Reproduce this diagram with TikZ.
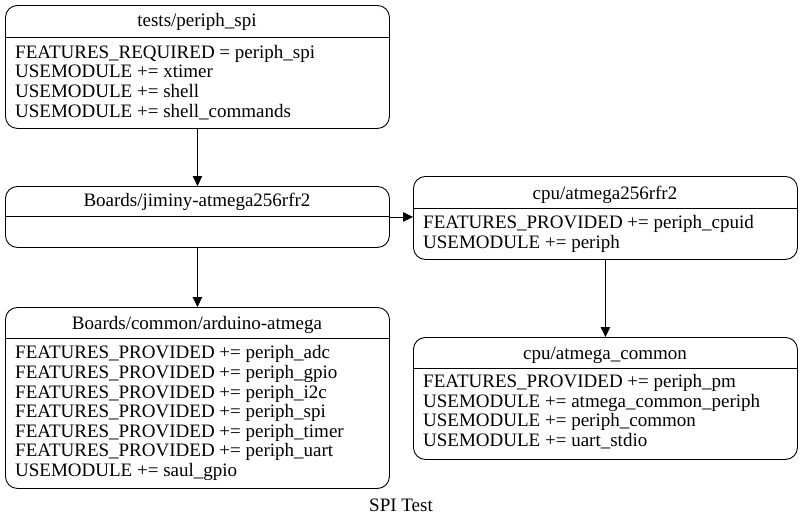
\documentclass[tikz,border=0pt]{standalone}
\usepackage{fontspec}
\setmainfont{Liberation Serif}
\usetikzlibrary{arrows.meta}
\begin{document}
\begin{tikzpicture}[x=1pt,y=-1pt,
  box/.style={draw, line width=0.9pt, rounded corners=12pt, anchor=north west, inner sep=0pt},
  ttl/.style={anchor=base, inner sep=0pt, font=\fontsize{19}{19.6}\selectfont},
  body/.style={anchor=base west, inner sep=0pt, align=left, font=\fontsize{19}{19.6}\selectfont},
  sep/.style={line width=0.9pt},
  arr/.style={line width=0.9pt, -{Triangle[length=10pt,width=9.5pt]}}]
\useasboundingbox (0,0) rectangle (803,525);
% boxes
\node[box, minimum width=384pt, minimum height=123pt] (b1) at (5,5) {};
\node[box, minimum width=384pt, minimum height=61pt] (b2) at (5,186) {};
\node[box, minimum width=384pt, minimum height=181pt] (b3) at (5,307) {};
\node[box, minimum width=384pt, minimum height=83pt] (b4) at (413,176) {};
\node[box, minimum width=384pt, minimum height=122pt] (b5) at (413,337) {};
% separators
\coordinate (s1) at (0,37.5);
\coordinate (s2) at (0,216.5);
\coordinate (s3) at (0,338.5);
\coordinate (s4) at (0,208);
\coordinate (s5) at (0,368);
\draw[sep] (b1.west |- s1) -- (b1.east |- s1);
\draw[sep] (b2.west |- s2) -- (b2.east |- s2);
\draw[sep] (b3.west |- s3) -- (b3.east |- s3);
\draw[sep] (b4.west |- s4) -- (b4.east |- s4);
\draw[sep] (b5.west |- s5) -- (b5.east |- s5);
% titles
\node[ttl] (t1) at (197,26) {tests/periph\_spi};
\node[ttl] (t2) at (197,206) {Boards/jiminy-atmega256rfr2};
\node[ttl] (t3) at (197,329) {Boards/common/arduino-atmega};
\node[ttl] (t4) at (605,199) {cpu/atmega256rfr2};
\node[ttl] (t5) at (605,359) {cpu/atmega\_common};
% bodies (anchored at the baseline of their last line)
\node[body] (l1) at (15,117) {FEATURES\_REQUIRED = periph\_spi\\USEMODULE += xtimer\\USEMODULE += shell\\USEMODULE += shell\_commands};
\node[body] (l3) at (15,476.5) {FEATURES\_PROVIDED += periph\_adc\\FEATURES\_PROVIDED += periph\_gpio\\FEATURES\_PROVIDED += periph\_i2c\\FEATURES\_PROVIDED += periph\_spi\\FEATURES\_PROVIDED += periph\_timer\\FEATURES\_PROVIDED += periph\_uart\\USEMODULE += saul\_gpio};
\node[body] (l4) at (423,248.5) {FEATURES\_PROVIDED += periph\_cpuid\\USEMODULE += periph};
\node[body] (l5) at (423,446.5) {FEATURES\_PROVIDED += periph\_pm\\USEMODULE += atmega\_common\_periph\\USEMODULE += periph\_common\\USEMODULE += uart\_stdio};
% caption
\node[ttl] (cap) at (401,511) {SPI Test};
% edges
\draw[arr] (b1) -- (b2);
\draw[arr] (b2) -- (b3);
\draw[arr] (b2.east) -- (b4.west |- b2.east);
\draw[arr] (b4) -- (b5);
\end{tikzpicture}
\end{document}
